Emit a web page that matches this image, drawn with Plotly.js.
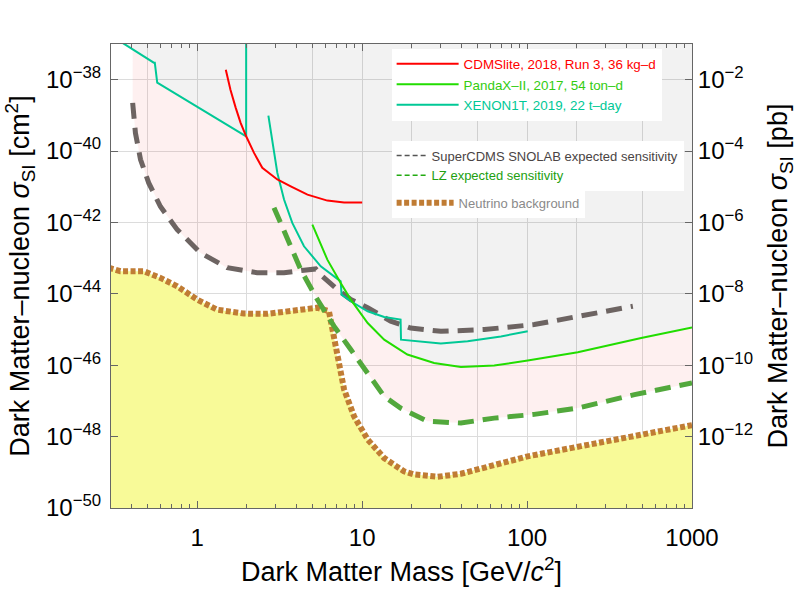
<!DOCTYPE html>
<html>
<head>
<meta charset="utf-8">
<script src="https://cdn.plot.ly/plotly-3.0.1.min.js"></script>
<style>
  html, body { margin: 0; padding: 0; background: #fff; }
  #chart { width: 800px; height: 589px; }
</style>
</head>
<body>
<div id="chart"></div>
<script>
// current limits (solid lines), mass in GeV/c^2, sigma in cm^2
var cdmsMass  = [1.49, 1.59, 1.71, 1.83, 1.98, 2.21, 2.48, 3.06, 3.69, 4.66, 6.15, 7.77, 10.0];
var cdmsSigma = [1.9e-38, 5.2e-39, 1.65e-39, 6.3e-40, 2.6e-40, 8.9e-41, 3.4e-41, 1.6e-41, 1.03e-41, 6.0e-42, 4.1e-42, 3.6e-42, 3.6e-42];

var pandaMass  = [4.99, 6.15, 7.41, 8.53, 10.8, 13.6, 18.8, 27.3, 39.7, 63.2, 100.9, 203, 492, 1000];
var pandaSigma = [8.7e-43, 9.1e-44, 2.0e-44, 6.9e-45, 1.52e-45, 5.2e-46, 2.0e-46, 1.16e-46, 8.9e-47, 9.8e-47, 1.35e-46, 2.3e-46, 5.8e-46, 1.15e-45];

// XENON1T comes in two pieces: the low mass one ends with a vertical edge at ~2 GeV
var xenonLowMass  = [0.33, 0.485, 0.545, 0.553, 0.572, 1.98, 1.98];
var xenonLowSigma = [1.3e-37, 4.1e-38, 3.0e-38, 3.0e-38, 8.3e-39, 2.6e-40, 1.3e-37];
var xenonMass  = [2.70, 2.85, 3.06, 3.36, 3.77, 4.44, 5.61, 7.41, 7.50, 8.53, 10.8, 13.6, 17.1, 17.2, 21.7, 30.0, 43.6, 69.4, 100.9];
var xenonSigma = [9.8e-40, 2.1e-40, 2.45e-41, 4.4e-42, 9.7e-43, 2.15e-43, 5.9e-44, 2.24e-44, 9.5e-45, 6.2e-45, 3.24e-45, 2.25e-45, 1.9e-45, 5.2e-46, 4.7e-46, 4.05e-46, 4.7e-46, 6.4e-46, 8.9e-46];

// projected sensitivities (dashed)
var snolabMass  = [0.406, 0.422, 0.453, 0.508, 0.598, 0.756, 1.047, 1.52, 2.31, 3.36, 4.44, 5.23, 5.74, 7.08, 8.53, 10.8, 14.9, 19.7, 30.0, 55.0, 110.6, 233, 438];
var snolabSigma = [2.24e-39, 3.2e-40, 5.8e-41, 1.28e-41, 2.8e-42, 6.3e-43, 1.4e-43, 5.4e-44, 3.9e-44, 3.9e-44, 4.6e-44, 5.0e-44, 3.1e-44, 1.32e-44, 6.9e-45, 4.1e-45, 1.71e-45, 1.1e-45, 8.9e-46, 1.0e-45, 1.38e-45, 2.6e-45, 4.5e-45];

var lzMass  = [2.92, 3.52, 4.24, 5.35, 6.75, 8.53, 10.8, 13.6, 17.1, 24.9, 39.7, 63.2, 110.6, 203, 448, 1000];
var lzSigma = [2.6e-42, 3.3e-43, 4.8e-44, 6.9e-45, 1.24e-45, 2.75e-46, 6.1e-47, 1.34e-47, 6.3e-48, 2.7e-48, 2.4e-48, 3.3e-48, 4.2e-48, 6.3e-48, 1.5e-47, 3.2e-47];

// neutrino background
var nuMass  = [0.29, 0.342, 0.474, 0.598, 0.756, 1.0, 1.32, 1.92, 2.66, 3.86, 5.35, 6.29, 6.75, 7.08, 7.77, 8.93, 10.8, 13.6, 17.9, 20.7, 28.7, 39.7, 57.6, 100.9, 212, 448, 1000];
var nuSigma = [5.4e-44, 4.3e-44, 4.3e-44, 2.8e-44, 1.63e-44, 6.9e-45, 3.6e-45, 2.8e-45, 2.75e-45, 3.4e-45, 4.1e-45, 3.25e-45, 6.4e-46, 1.44e-46, 2.1e-47, 3.7e-48, 8.3e-49, 2.5e-49, 1.07e-49, 8.7e-50, 7.5e-50, 9.1e-50, 1.48e-49, 2.8e-49, 5.4e-49, 1.02e-48, 2.1e-48];

// axis ticks
var massTicks = [1, 10, 100, 1000];
var massTickText = ['1', '10', '100', '1000'];
var massGrid = [0.5, 2, 5, 20, 50, 200, 500];
var massMinor = [0.4, 0.5, 0.6, 0.7, 0.8, 0.9, 2, 3, 4, 5, 6, 7, 8, 9, 20, 30, 40, 50, 60, 70, 80, 90, 200, 300, 400, 500, 600, 700, 800, 900];
var cmTicks = [1e-50, 1e-48, 1e-46, 1e-44, 1e-42, 1e-40, 1e-38];
var cmTickText = ['10<sup>−50</sup>', '10<sup>−48</sup>', '10<sup>−46</sup>', '10<sup>−44</sup>', '10<sup>−42</sup>', '10<sup>−40</sup>', '10<sup>−38</sup>'];
var pbTicks = [1e-12, 1e-10, 1e-8, 1e-6, 1e-4, 1e-2];
var pbTickText = ['10<sup>−12</sup>', '10<sup>−10</sup>', '10<sup>−8</sup>', '10<sup>−6</sup>', '10<sup>−4</sup>', '10<sup>−2</sup>'];

var FONT = 'Liberation Sans, Arial, Helvetica, sans-serif';
var xRange = [Math.log10(0.3), 3];
var SKY = 1e-36, FLOOR = 1e-52;   // beyond the axis range, used to close the shaded areas

// log-log interpolation of a curve, null outside it
function valueAt(xs, ys, x) {
  for (var i = 0; i < xs.length - 1; i++) {
    if (xs[i + 1] > xs[i] && x >= xs[i] && x <= xs[i + 1]) {
      var t = (Math.log(x) - Math.log(xs[i])) / (Math.log(xs[i + 1]) - Math.log(xs[i]));
      return Math.exp(Math.log(ys[i]) + t * (Math.log(ys[i + 1]) - Math.log(ys[i])));
    }
  }
  return null;
}

// lower envelope of several curves, sampled on the masses of all of them
function envelope(curves, masses) {
  var out = [];
  masses.forEach(function (m) {
    var best = null;
    curves.forEach(function (c) {
      var v = valueAt(c[0], c[1], m);
      if (v !== null && (best === null || v < best)) best = v;
    });
    out.push(best);
  });
  return out;
}

function massesBetween(lists, lo, hi) {
  var all = [lo, hi];
  lists.forEach(function (l) { all = all.concat(l); });
  all = all.filter(function (m) { return m >= lo && m <= hi; }).sort(function (a, b) { return a - b; });
  return all.filter(function (m, i) { return i === 0 || m !== all[i - 1]; });
}

var limitCurves = [[xenonLowMass, xenonLowSigma], [cdmsMass, cdmsSigma], [xenonMass, xenonSigma], [pandaMass, pandaSigma]];
var projCurves = [[snolabMass, snolabSigma], [lzMass, lzSigma]];
var allMass = [xenonLowMass, cdmsMass, xenonMass, pandaMass, snolabMass, lzMass];

// excluded region: above the lowest current limit
var limMass = massesBetween(allMass, 0.33, 1000);
var limSigma = envelope(limitCurves, limMass);
// region to be probed: between the projections and the current limits
var projMass = massesBetween(allMass, 0.406, 1000);
var projSigma = envelope(projCurves, projMass);
var projTop = envelope(limitCurves, projMass);

var greyArea = { x: limMass.concat([1000, 0.33]), y: limSigma.concat([SKY, SKY]) };
var pinkArea = { x: projMass.concat(projMass.slice().reverse()), y: projSigma.concat(projTop.slice().reverse()) };
var yellowArea = { x: nuMass.concat([1000, 0.29]), y: nuSigma.concat([FLOOR, FLOOR]) };

function area(poly, color) {
  return { x: poly.x, y: poly.y, mode: 'lines', fill: 'toself',
           fillcolor: color, line: { width: 0 }, hoverinfo: 'skip', showlegend: false };
}

var GRID = '#dcdcdc';

var data = [
  area(pinkArea, 'rgba(238,0,0,0.06)'),
  area(greyArea, 'rgba(0,0,0,0.051)'),
  area(yellowArea, '#f8fa98'),
  { x: [null], y: [null], xaxis: 'x3', yaxis: 'y', showlegend: false, hoverinfo: 'skip' },
  { x: [null], y: [null], xaxis: 'x', yaxis: 'y3', showlegend: false, hoverinfo: 'skip' },
  { x: nuMass, y: nuSigma, mode: 'lines', legend: 'legend3',
    name: '<span style="color:#8a8a8a">Neutrino background</span>',
    line: { color: '#c07c34', width: 6, dash: '5px,2.5px' } },
  { x: lzMass, y: lzSigma, mode: 'lines', showlegend: false,
    line: { color: '#52a83c', width: 5, dash: '16px,9px' } },
  { x: snolabMass, y: snolabSigma, mode: 'lines', showlegend: false,
    line: { color: '#6d6462', width: 5, dash: '16px,9px' } },
  // legend keys of the projections are drawn thin, as in the original
  { x: [null], y: [null], mode: 'lines', legend: 'legend2',
    name: '<span style="color:#4a4444">SuperCDMS SNOLAB expected sensitivity</span>',
    line: { color: '#555555', width: 1.5, dash: '5px,3px' } },
  { x: [null], y: [null], mode: 'lines', legend: 'legend2',
    name: '<span style="color:#22a010">LZ expected sensitivity</span>',
    line: { color: '#22aa11', width: 1.5, dash: '5px,3px' } },
  { x: xenonLowMass, y: xenonLowSigma, mode: 'lines', showlegend: false,
    line: { color: '#00c896', width: 2 } },
  { x: xenonMass, y: xenonSigma, mode: 'lines', legend: 'legend', legendrank: 3,
    legendgroup: 'xenon',
    name: '<span style="color:#00c896">XENON1T, 2019, 22 t–day</span>',
    line: { color: '#00c896', width: 2 } },
  { x: pandaMass, y: pandaSigma, mode: 'lines', legend: 'legend', legendrank: 2,
    legendgroup: 'panda',
    name: '<span style="color:#33cc11">PandaX–II, 2017, 54 ton–d</span>',
    line: { color: '#22dd00', width: 2 } },
  { x: cdmsMass, y: cdmsSigma, mode: 'lines', legend: 'legend', legendrank: 1,
    legendgroup: 'cdms',
    name: '<span style="color:#ff0000">CDMSlite, 2018, Run 3, 36 kg–d</span>',
    line: { color: '#ff0000', width: 2 } }
];

var tickFont = { family: FONT, size: 24, color: '#000' };
var titleFont = { family: FONT, size: 27, color: '#000' };
var legendBase = { bgcolor: '#ffffff', borderwidth: 0, xanchor: 'left', yanchor: 'top',
                   traceorder: 'normal' };

var layout = {
  width: 800, height: 589,
  margin: { l: 111, r: 108, t: 44, b: 81 },
  paper_bgcolor: '#ffffff',
  plot_bgcolor: '#ffffff',
  font: { family: FONT },
  xaxis: {
    type: 'log', range: xRange,
    tickvals: massTicks, ticktext: massTickText, tickfont: tickFont,
    ticks: 'inside', ticklen: 7, tickcolor: '#666', ticklabelstandoff: 8,
    showline: true, linecolor: '#666', linewidth: 1, mirror: 'ticks',
    showgrid: true, gridcolor: GRID, gridwidth: 1,
    minor: { tickvals: massGrid, ticks: '', showgrid: true, gridcolor: GRID, gridwidth: 1 },
    zeroline: false,
    title: { text: 'Dark Matter Mass [GeV/<i>c</i><sup>2</sup>]', font: titleFont, standoff: 12 }
  },
  xaxis3: {
    type: 'log', range: xRange, overlaying: 'x', anchor: 'y',
    tickvals: massMinor, ticks: 'inside', ticklen: 4, tickcolor: '#666',
    showticklabels: false, showgrid: false, zeroline: false,
    showline: true, linecolor: '#666', mirror: 'ticks'
  },
  yaxis: {
    type: 'log', range: [-50, -37],
    tickvals: cmTicks, ticktext: cmTickText, tickfont: tickFont,
    ticks: 'inside', ticklen: 7, tickcolor: '#666', ticklabelstandoff: 4,
    showline: true, linecolor: '#666', linewidth: 1,
    showgrid: true, gridcolor: GRID, zeroline: false,
    title: { text: 'Dark Matter–nucleon <i>σ</i><sub>SI</sub> [cm<sup>2</sup>]', font: titleFont, standoff: 8 }
  },
  yaxis3: {
    type: 'log', range: [-14, -1], overlaying: 'y', anchor: 'x', side: 'right',
    tickvals: pbTicks, ticktext: pbTickText, tickfont: tickFont,
    ticks: 'inside', ticklen: 7, tickcolor: '#666', ticklabelstandoff: 0,
    showline: true, linecolor: '#666', linewidth: 1,
    showgrid: false, zeroline: false,
    title: { text: 'Dark Matter–nucleon <i>σ</i><sub>SI</sub> [pb]', font: titleFont, standoff: 16 }
  },
  legend: Object.assign({}, legendBase, { x: 0.483, y: 0.99, itemwidth: 62, tracegroupgap: 3,
                                           font: { family: FONT, size: 13.4 } }),
  legend2: Object.assign({}, legendBase, { x: 0.483, y: 0.792,
                                            font: { family: FONT, size: 13 } }),
  legend3: Object.assign({}, legendBase, { x: 0.483, y: 0.69, itemwidth: 57,
                                            font: { family: FONT, size: 13 } }),
  showlegend: true
};

Plotly.newPlot('chart', data, layout, { displayModeBar: false, staticPlot: true });
</script>
</body>
</html>
